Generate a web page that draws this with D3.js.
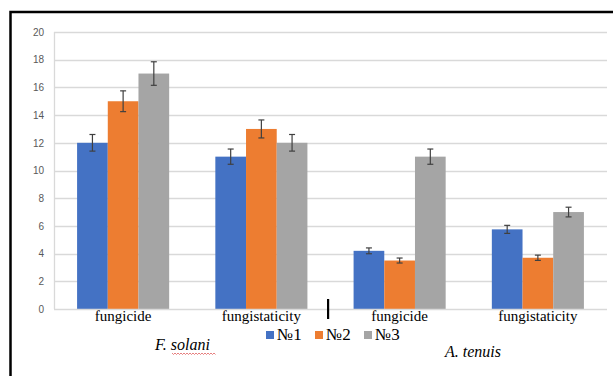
<!DOCTYPE html>
<html><head><meta charset="utf-8">
<script src="https://cdn.jsdelivr.net/npm/d3@7"></script>
<style>html,body{margin:0;padding:0;background:#fff;}svg{display:block;}
text.serif{font-family:"Liberation Serif","Times New Roman",Tinos,serif !important;}
</style>
</head><body>
<svg id="c" width="613" height="376"></svg>
<script>
const categories = ["fungicide","fungistaticity","fungicide","fungistaticity"];
const seriesNames = ["№1","№2","№3"];
const seriesColors = ["#4472C4","#ED7D31","#A5A5A5"];
const s1 = [12, 11, 4.2, 5.75];
const s2 = [15, 13, 3.5, 3.7];
const s3 = [17, 12, 11, 7];
const e1 = [0.6, 0.55, 0.21, 0.29];
const e2 = [0.75, 0.65, 0.18, 0.19];
const e3 = [0.85, 0.6, 0.55, 0.35];
const yTicks = [0,2,4,6,8,10,12,14,16,18,20];
const groupLabels = ["F. solani","A. tenuis"];

const SERIF = '"Liberation Serif", "Times New Roman", Tinos, serif';
const svg = d3.select("#c");
const L=54, R=607, T=32, B=309;
const values=[s1,s2,s3], errors=[e1,e2,e3];

svg.append("path").attr("d","M10.5,376 L10.5,12 L613,12").attr("fill","none").attr("stroke","#000").attr("stroke-width",2.5);

const y = d3.scaleLinear().domain([0,20]).range([B,T]);
const x0 = d3.scaleBand().domain(d3.range(categories.length)).range([L,R]).padding(0);
const bw = x0.bandwidth();
const x1 = d3.scaleBand().domain(d3.range(3)).range([bw*0.167, bw*0.833]).padding(0);

svg.append("g").selectAll("line").data(yTicks.filter(d=>d>0)).join("line")
  .attr("x1",L).attr("x2",R).attr("y1",d=>Math.round(y(d))+0.5).attr("y2",d=>Math.round(y(d))+0.5)
  .attr("stroke","#d9d9d9").attr("stroke-width",1.3);
svg.append("line").attr("x1",L+0.5).attr("x2",L+0.5).attr("y1",T).attr("y2",B).attr("stroke","#d9d9d9").attr("stroke-width",1.3);

const yAxis = d3.axisLeft(y).tickValues(yTicks).tickSize(0).tickPadding(10);
const ga = svg.append("g").attr("transform",`translate(${L},0)`).call(yAxis);
ga.select(".domain").remove();
ga.selectAll("text").style("font-family",'"Liberation Sans", Arial, sans-serif').style("font-size","10px").attr("fill","#595959");

const groups = svg.append("g").selectAll("g").data(categories).join("g")
  .attr("transform",(d,i)=>`translate(${x0(i)},0)`);
groups.each(function(c,i){
  const g=d3.select(this);
  for(let s=0;s<3;s++){
    const v=values[s][i];
    g.append("rect").attr("x",x1(s)).attr("width",x1.bandwidth()).attr("y",y(v)).attr("height",y(0)-y(v)).attr("fill",seriesColors[s]);
  }
});
svg.append("line").attr("x1",L).attr("x2",R).attr("y1",B+0.5).attr("y2",B+0.5).attr("stroke","#d9d9d9").attr("stroke-width",1.5);

groups.each(function(c,i){
  const g=d3.select(this);
  for(let s=0;s<3;s++){
    const v=values[s][i], e=errors[s][i], cx=x1(s)+x1.bandwidth()/2;
    g.append("line").attr("x1",cx).attr("x2",cx).attr("y1",y(v+e)).attr("y2",y(v-e)).attr("stroke","#404040").attr("stroke-width",1.2);
    [v+e,v-e].forEach(t=>g.append("line").attr("x1",cx-3).attr("x2",cx+3).attr("y1",y(t)).attr("y2",y(t)).attr("stroke","#404040").attr("stroke-width",1.2));
  }
});

svg.append("g").selectAll("text").data(categories).join("text")
  .attr("class","serif").attr("font-family",SERIF).style("font-family",SERIF).style("font-size","15px")
  .attr("x",(d,i)=>x0(i)+bw/2).attr("y",321).attr("text-anchor","middle")
  .attr("fill","#000").text(d=>d);

svg.append("rect").attr("x",327).attr("y",299).attr("width",2.2).attr("height",20).attr("fill","#000");

const legX=[266,315,364];
const lg = svg.append("g").selectAll("g").data(seriesNames).join("g").attr("transform",(d,i)=>`translate(${legX[i]},0)`);
lg.append("rect").attr("x",0).attr("y",331).attr("width",8).attr("height",8).attr("fill",(d,i)=>seriesColors[i]);
lg.append("text").attr("class","serif").attr("font-family",SERIF).style("font-family",SERIF).style("font-size","17px").attr("x",11).attr("y",340).attr("fill","#000").text(d=>d);

svg.append("text").attr("class","serif").attr("font-family",SERIF).style("font-family",SERIF).style("font-size","16px").style("font-style","italic").attr("x",155).attr("y",350).attr("fill","#000").text(groupLabels[0]);
svg.append("text").attr("class","serif").attr("font-family",SERIF).style("font-family",SERIF).style("font-size","16px").style("font-style","italic").attr("x",445).attr("y",357).attr("fill","#000").text(groupLabels[1]);
let wp="M172,353";
for(let xx=172, k=0; xx<215; xx+=1.5, k++){ wp+=` L${xx+1.5},${k%2?353:354.5}`; }
svg.append("path").attr("d",wp).attr("fill","none").attr("stroke","#e06060").attr("stroke-width",0.8);
</script>
</body></html>
